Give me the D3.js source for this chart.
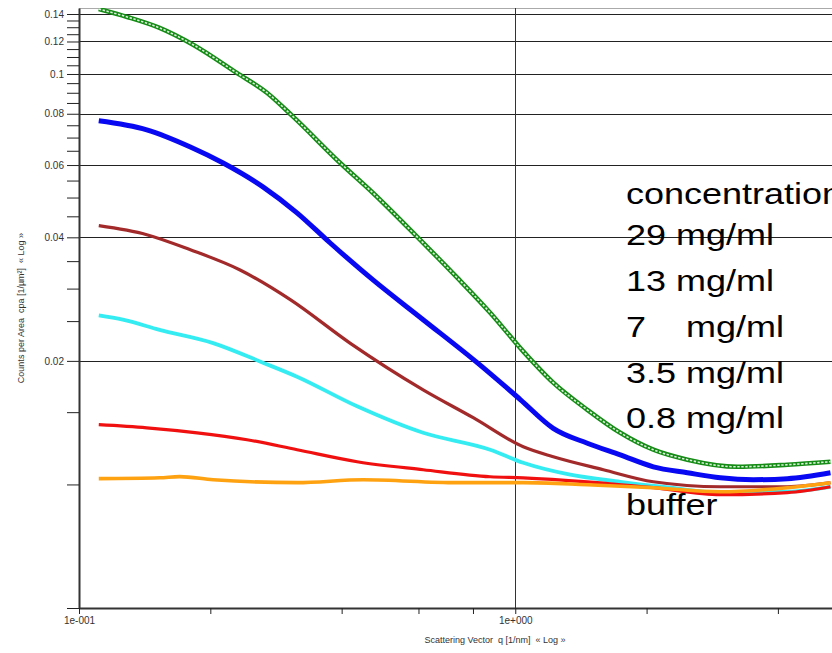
<!DOCTYPE html>
<html>
<head>
<meta charset="utf-8">
<script src="https://cdn.jsdelivr.net/npm/d3@7"></script>
<style>
  body { margin: 0; background: #fff; }
  svg { display: block; font-family: "Liberation Sans", Arial, sans-serif; }
  text { white-space: pre; }
</style>
</head>
<body>
<svg id="chart" width="832" height="653"></svg>
<script>
// scattering curves, q in 1/nm, counts per area
var q29 = [0.111, 0.129, 0.153, 0.183, 0.230, 0.270, 0.310, 0.397, 0.472, 0.596, 0.736, 0.876, 1.043, 1.222, 1.463, 1.741, 2.073, 2.481, 3.229, 4.206, 5.279];
var v29 = [0.1440, 0.1377, 0.1295, 0.1177, 0.1006, 0.0899, 0.0786, 0.0607, 0.0513, 0.0401, 0.0319, 0.0262, 0.0211, 0.0177, 0.0152, 0.01336, 0.01215, 0.01149, 0.01104, 0.01117, 0.01136];

var q13 = [0.111, 0.143, 0.180, 0.214, 0.264, 0.316, 0.376, 0.472, 0.615, 0.818, 1.027, 1.222, 1.463, 1.741, 2.073, 2.481, 2.953, 3.515, 4.206, 5.279];
var v13 = [0.0769, 0.0731, 0.0664, 0.0607, 0.0531, 0.0459, 0.0388, 0.0315, 0.0252, 0.0198, 0.0161, 0.0137, 0.0126, 0.0118, 0.01104, 0.01068, 0.01038, 0.01027, 0.01033, 0.01068];

var q7 = [0.111, 0.143, 0.180, 0.234, 0.305, 0.418, 0.615, 0.801, 1.043, 1.222, 1.592, 2.073, 2.953, 4.206, 5.279];
var v7 = [0.0427, 0.0406, 0.0373, 0.0333, 0.0282, 0.0221, 0.0170, 0.01454, 0.01235, 0.01168, 0.01086, 0.01015, 0.00987, 0.00987, 0.0101];

var q35 = [0.111, 0.126, 0.153, 0.203, 0.264, 0.316, 0.434, 0.615, 0.876, 1.043, 1.337, 1.741, 2.268, 2.953, 4.206, 5.279];
var v35 = [0.0258, 0.0252, 0.0238, 0.0221, 0.0198, 0.0183, 0.0155, 0.01336, 0.01215, 0.01129, 0.01056, 0.01015, 0.00982, 0.00955, 0.0096, 0.00987];

var q08 = [0.111, 0.143, 0.1865, 0.2428, 0.3162, 0.4341, 0.6152, 0.876, 1.043, 1.463, 2.073, 2.953, 4.206, 5.279];
var v08 = [0.01398, 0.01374, 0.01336, 0.01285, 0.01215, 0.01136, 0.01086, 0.01044, 0.01038, 0.01015, 0.00982, 0.00944, 0.00955, 0.00987];

var qBuf = [0.111, 0.153, 0.170, 0.203, 0.316, 0.448, 0.736, 1.043, 1.463, 2.073, 2.953, 4.206, 5.279];
var vBuf = [0.01033, 0.01038, 0.01045, 0.01027, 0.0101, 0.01027, 0.0101, 0.0101, 0.00998, 0.00982, 0.0096, 0.00982, 0.0101];

// axis ticks
var yLabeled = [0.14, 0.12, 0.1, 0.08, 0.06, 0.04, 0.02];
var yLabelText = ["0.14", "0.12", "0.1", "0.08", "0.06", "0.04", "0.02"];
var yPlain = [0.01, 0.005];
var yMinor = [0.135, 0.13, 0.125, 0.115, 0.11, 0.105, 0.095, 0.09, 0.085, 0.075, 0.07, 0.065, 0.055, 0.05, 0.045, 0.035, 0.03, 0.025, 0.015];
var xTicks = [0.1, 0.2, 0.4, 0.6, 0.8, 1, 2, 4];
var xLabeled = [0.1, 1];
var xLabelText = ["1e-001", "1e+000"];

var legendLines = ["concentration", "29 mg/ml", "13 mg/ml", "7    mg/ml", "3.5 mg/ml", "0.8 mg/ml"];
var bufferLabel = "buffer";

var svg = d3.select("#chart");

var x = d3.scaleLog().domain([0.1, 5.35]).range([79, 833]);
var y = d3.scaleLog().domain([0.005, 0.1448]).range([608, 8]);

svg.append("clipPath").attr("id", "plotclip")
  .append("rect").attr("x", 79).attr("y", 8).attr("width", 760).attr("height", 600);

// grid
var grid = svg.append("g").attr("shape-rendering", "crispEdges");
grid.append("line")
  .attr("x1", 79).attr("x2", 832).attr("y1", 8).attr("y2", 8)
  .attr("stroke", "#aaa");
grid.selectAll(".hgrid")
  .data(yLabeled)
  .enter().append("line")
  .attr("class", "hgrid")
  .attr("x1", 79).attr("x2", 832)
  .attr("y1", function(d) { return Math.round(y(d)) + 0.5; })
  .attr("y2", function(d) { return Math.round(y(d)) + 0.5; })
  .attr("stroke", "#222").attr("stroke-width", 1);
grid.append("line")
  .attr("x1", Math.round(x(1)) + 0.5).attr("x2", Math.round(x(1)) + 0.5)
  .attr("y1", 8).attr("y2", 608)
  .attr("stroke", "#333").attr("stroke-width", 1);

// series
var line = d3.line()
  .x(function(d) { return x(d[0]); })
  .y(function(d) { return y(d[1]); })
  .curve(d3.curveMonotoneX);

function pts(qs, vs) {
  return qs.map(function(q, i) { return [q, vs[i]]; });
}

var plot = svg.append("g").attr("clip-path", "url(#plotclip)");

// 29 mg/ml: hollow square markers
plot.append("path")
  .attr("d", line(pts(q29, v29)))
  .attr("fill", "none").attr("stroke", "#158c15").attr("stroke-width", 4.6);
plot.append("path")
  .attr("d", line(pts(q29, v29)))
  .attr("fill", "none").attr("stroke", "#fff").attr("stroke-width", 1.6)
  .attr("stroke-dasharray", "2.4,1.6").attr("opacity", 0.85);

plot.append("path")
  .attr("d", line(pts(q13, v13)))
  .attr("fill", "none").attr("stroke", "#0808f2").attr("stroke-width", 5);

plot.append("path")
  .attr("d", line(pts(q7, v7)))
  .attr("fill", "none").attr("stroke", "#a32a2a").attr("stroke-width", 3.2);

plot.append("path")
  .attr("d", line(pts(q35, v35)))
  .attr("fill", "none").attr("stroke", "#35ecf2").attr("stroke-width", 3.8);

plot.append("path")
  .attr("d", line(pts(q08, v08)))
  .attr("fill", "none").attr("stroke", "#f01010").attr("stroke-width", 3.2);

plot.append("path")
  .attr("d", line(pts(qBuf, vBuf)))
  .attr("fill", "none").attr("stroke", "#ffa212").attr("stroke-width", 3.6);

// y axis
var yAxis = svg.append("g")
  .attr("transform", "translate(79,0)")
  .call(d3.axisLeft(y)
    .tickValues(yLabeled.concat(yPlain, yMinor))
    .tickSize(12).tickSizeOuter(0).tickPadding(3)
    .tickFormat(function(d) {
      var i = yLabeled.indexOf(d);
      return i < 0 ? "" : yLabelText[i];
    }));
yAxis.select(".domain").attr("stroke", "#333").attr("stroke-width", 2);
yAxis.selectAll(".tick line").attr("stroke", "#222");
yAxis.selectAll(".tick text")
  .attr("font-family", "Liberation Sans, Arial, sans-serif")
  .attr("font-size", 10).attr("fill", "#333");

// x axis
var xAxis = svg.append("g")
  .attr("transform", "translate(0,608)")
  .call(d3.axisBottom(x)
    .tickValues(xTicks)
    .tickSize(6).tickSizeOuter(0).tickPadding(3)
    .tickFormat(function(d) {
      var i = xLabeled.indexOf(d);
      return i < 0 ? "" : xLabelText[i];
    }));
xAxis.select(".domain").attr("stroke", "#333").attr("stroke-width", 2);
xAxis.selectAll(".tick line").attr("stroke", "#222");
xAxis.selectAll(".tick text")
  .attr("font-family", "Liberation Sans, Arial, sans-serif")
  .attr("font-size", 10).attr("fill", "#333");

// axis titles
svg.append("text")
  .attr("transform", "translate(24,308) rotate(-90)")
  .attr("text-anchor", "middle")
  .attr("font-size", 9).attr("fill", "#333")
  .text("Counts per Area  cpa [1/\u00b5m\u00b2]  \u00ab Log \u00bb");

svg.append("text")
  .attr("x", 495).attr("y", 643)
  .attr("text-anchor", "middle")
  .attr("font-size", 9).attr("fill", "#333")
  .text("Scattering Vector  q [1/nm]  \u00ab Log \u00bb");

// legend text written on the plot
var legendBase = [204, 245, 291, 337, 383, 428];
svg.selectAll(".legend")
  .data(legendLines)
  .enter().append("text")
  .attr("class", "legend")
  .attr("transform", function(d, i) { return "translate(626," + legendBase[i] + ") scale(1.2,1)"; })
  .attr("font-size", 30).attr("fill", "#000")
  .text(function(d) { return d; });

svg.append("text")
  .attr("transform", "translate(626,515) scale(1.2,1)")
  .attr("font-size", 30).attr("fill", "#000")
  .text(bufferLabel);
</script>
</body>
</html>
